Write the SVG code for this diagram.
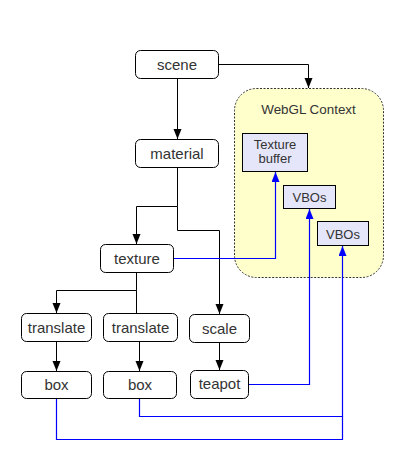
<svg xmlns="http://www.w3.org/2000/svg" width="400" height="464" viewBox="0 0 400 464">
<style>
.n{fill:#ffffff;stroke:#000;stroke-width:1}
.g{fill:#e6e6fa;stroke:#000;stroke-width:1}
.t{font-family:"Liberation Sans",Arial,sans-serif;font-size:15px;fill:#333;text-anchor:middle}
.s{font-family:"Liberation Sans",Arial,sans-serif;font-size:13px;fill:#333;text-anchor:middle}
.k{fill:none;stroke:#000;stroke-width:1}
.b{fill:none;stroke:#0000ff;stroke-width:1.2}
</style>
<defs>
<marker id="ak" markerUnits="userSpaceOnUse" markerWidth="10" markerHeight="9" refX="10" refY="4" orient="auto"><path d="M0,0 L10,4 L0,8 z" fill="#000"/></marker>
<marker id="ab" markerUnits="userSpaceOnUse" markerWidth="10" markerHeight="9" refX="10" refY="4" orient="auto"><path d="M0,0 L10,4 L0,8 z" fill="#0000ff"/></marker>
</defs>
<rect width="400" height="464" fill="#fff"/>
<g id="webgl">
<rect x="234.5" y="88.5" width="149" height="189" rx="22" fill="#ffffcc" stroke="#333" stroke-width="1" stroke-dasharray="2,1.5"/>
<text class="s" x="308.5" y="114" style="font-size:13.4px">WebGL Context</text>
</g>
<g id="texbuf"><rect class="g" x="242.5" y="133.5" width="65" height="38"/><text class="s" x="275" y="149">Texture</text><text class="s" x="275" y="163">buffer</text></g>
<g id="vbos1"><rect class="g" x="283.5" y="185.5" width="52" height="23"/><text class="s" x="309.5" y="202">VBOs</text></g>
<g id="vbos2"><rect class="g" x="317.5" y="221.5" width="51" height="24"/><text class="s" x="343" y="238.5">VBOs</text></g>
<g id="connectors">
<path class="k" d="M218.5,64.5 H308.5 V88" marker-end="url(#ak)"/>
<path class="k" d="M177.5,78.5 V139" marker-end="url(#ak)"/>
<path class="k" d="M177.5,167.5 V206.5 H136.5 V244" marker-end="url(#ak)"/>
<path class="k" d="M177.5,206.5 V230.5 H219.5 V314" marker-end="url(#ak)"/>
<path class="k" d="M136.5,272.5 V290.5 H56.5 V313" marker-end="url(#ak)"/>
<path class="k" d="M136.5,290.5 V313.5"/>
<path class="k" d="M56.5,341.5 V371" marker-end="url(#ak)"/>
<path class="k" d="M139.5,341.5 V371" marker-end="url(#ak)"/>
<path class="k" d="M219.5,342.5 V370" marker-end="url(#ak)"/>
<path class="b" d="M173.5,258.5 H275.5 V172" marker-end="url(#ab)"/>
<path class="b" d="M248.5,384.5 H309.5 V209" marker-end="url(#ab)"/>
<path class="b" d="M139.5,398.5 V416.5 H342.5 V246" marker-end="url(#ab)"/>
<path class="b" d="M56.5,398.5 V439.5 H342.5 V416.5"/>
</g>
<g id="scene"><rect class="n" x="135.5" y="50.5" width="83" height="28" rx="5"/><text class="t" x="177" y="69.5">scene</text></g>
<g id="material"><rect class="n" x="135.5" y="139.5" width="83" height="28" rx="5"/><text class="t" x="177" y="158.5">material</text></g>
<g id="texture"><rect class="n" x="100.5" y="244.5" width="73" height="28" rx="5"/><text class="t" x="137" y="263.5">texture</text></g>
<g id="translate1"><rect class="n" x="21.5" y="313.5" width="70" height="28" rx="5"/><text class="t" x="56.5" y="332.5">translate</text></g>
<g id="translate2"><rect class="n" x="103.5" y="313.5" width="74" height="28" rx="5"/><text class="t" x="140.5" y="332.5">translate</text></g>
<g id="scale"><rect class="n" x="189.5" y="314.5" width="60" height="28" rx="5"/><text class="t" x="219.5" y="333.5">scale</text></g>
<g id="box1"><rect class="n" x="21.5" y="371.5" width="70" height="27" rx="5"/><text class="t" x="56.5" y="390">box</text></g>
<g id="box2"><rect class="n" x="103.5" y="371.5" width="73" height="27" rx="5"/><text class="t" x="140" y="390">box</text></g>
<g id="teapot"><rect class="n" x="190.5" y="370.5" width="58" height="28" rx="5"/><text class="t" x="219.5" y="389">teapot</text></g>
</svg>
